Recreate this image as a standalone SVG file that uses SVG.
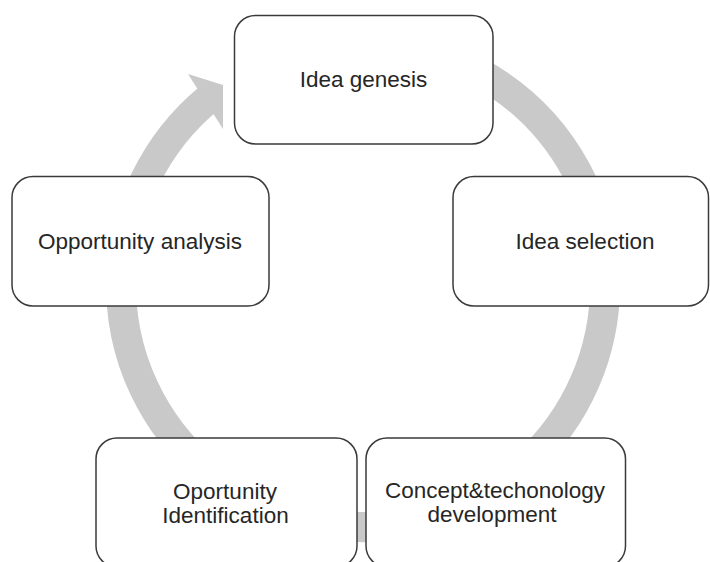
<svg xmlns="http://www.w3.org/2000/svg" width="710" height="562" viewBox="0 0 710 562">
  <style>
    .ring { fill: none; stroke: #c9c9c9; stroke-width: 30; }
    .head { fill: #c9c9c9; stroke: none; }
    .box { fill: #ffffff; stroke: #3a3a3a; stroke-width: 1.5; }
    .label { font-family: "Liberation Sans", Arial, sans-serif; font-size: 22.5px; fill: #262626; text-anchor: middle; }
  </style>

  <!-- cycle arrow running clockwise behind the stages -->
  <g id="connectors">
    <path class="ring" d="M 405.0 46.7 A 242 242 0 1 1 209.1 98.3"/>
    <polygon class="head" points="188,74 223,85 223,129"/>
  </g>

  <g id="idea-genesis">
    <rect class="box" x="234.5" y="15.5" width="258.5" height="128.5" rx="21" ry="21"/>
    <text class="label" x="363.5" y="86.5">Idea genesis</text>
  </g>

  <g id="idea-selection">
    <rect class="box" x="453" y="176.5" width="255.5" height="129.5" rx="21" ry="21"/>
    <text class="label" x="585" y="248.5">Idea selection</text>
  </g>

  <g id="concept-development">
    <rect class="box" x="366" y="438" width="259.5" height="129" rx="21" ry="21"/>
    <text class="label" x="495" y="497.5">Concept&amp;techonology</text>
    <text class="label" x="492" y="522">development</text>
  </g>

  <g id="opportunity-identification">
    <rect class="box" x="96" y="438" width="261" height="129" rx="21" ry="21"/>
    <text class="label" x="225" y="499">Oportunity</text>
    <text class="label" x="225.5" y="523">Identification</text>
  </g>

  <g id="opportunity-analysis">
    <rect class="box" x="12" y="176.5" width="257" height="129.5" rx="21" ry="21"/>
    <text class="label" x="140" y="248.5">Opportunity analysis</text>
  </g>
</svg>
